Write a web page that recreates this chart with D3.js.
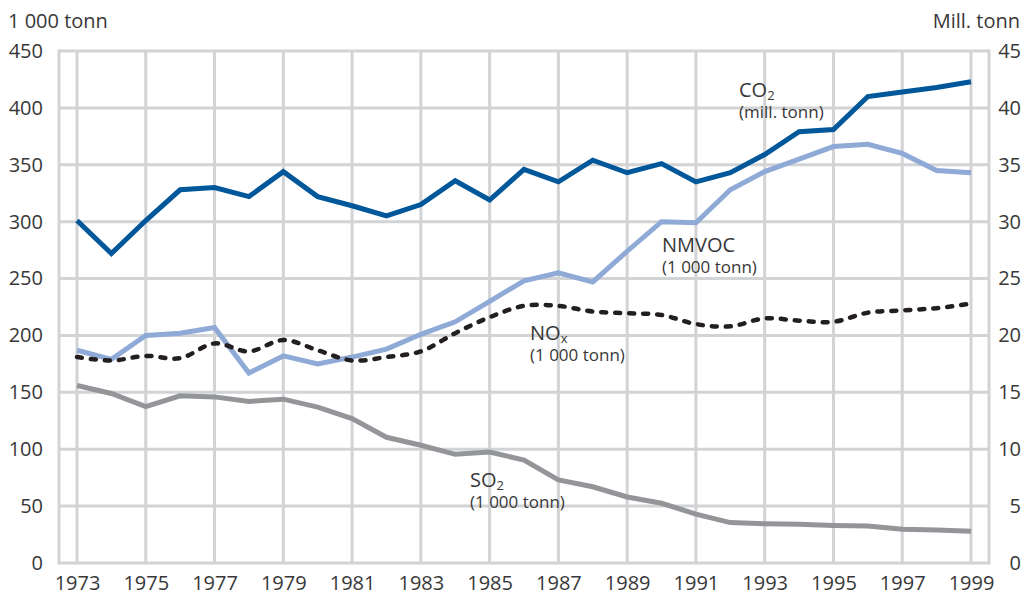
<!DOCTYPE html>
<html>
<head>
<meta charset="utf-8">
<script src="https://cdn.jsdelivr.net/npm/d3@7"></script>
<style>
  html, body { margin: 0; padding: 0; background: #ffffff; }
  svg { display: block; font-family: "Open Sans", "Noto Sans", sans-serif; }
</style>
</head>
<body>
<svg id="chart" width="1025" height="595"></svg>
<script>
const years = d3.range(1973, 2000);
const yearTicks = [1973, 1975, 1977, 1979, 1981, 1983, 1985, 1987, 1989, 1991, 1993, 1995, 1997, 1999];
const leftTicks = [0, 50, 100, 150, 200, 250, 300, 350, 400, 450];
const rightTicks = [0, 5, 10, 15, 20, 25, 30, 35, 40, 45];

// CO2, mill. tonn (right axis)
const co2 = [30.1, 27.2, 30.1, 32.8, 33.0, 32.2, 34.4, 32.2, 31.4, 30.5, 31.5, 33.6, 31.9, 34.6, 33.5, 35.4, 34.3, 35.1, 33.5, 34.3, 35.9, 37.9, 38.1, 41.0, 41.4, 41.8, 42.3];
// NMVOC, 1 000 tonn
const nmvoc = [187, 179, 200, 202, 207, 167, 182, 175, 181, 188, 201, 212, 230, 248, 255, 247, 274, 300, 299, 328, 344, 355, 366, 368, 360, 345, 343];
// NOx, 1 000 tonn
const nox = [181, 178, 182, 180, 193, 186, 196, 187, 178, 181, 186, 202, 216, 226, 226, 221, 219.5, 218, 210, 208, 215, 213, 212, 220, 222, 224, 228];
// SO2, 1 000 tonn
const so2 = [156, 149, 137.5, 147, 146, 142, 144, 137, 127, 110.5, 103.5, 95.5, 97.5, 90.5, 73, 67, 58, 52.5, 43, 35.5, 34.5, 34, 33, 32.5, 29.6, 29, 28];

const svg = d3.select("#chart");
const frame = { left: 59, right: 989, top: 51, bottom: 563 };
const x = d3.scaleLinear().domain([1973, 1999]).range([77, 971]);
const yL = d3.scaleLinear().domain([0, 450]).range([frame.bottom, frame.top]);
const yR = d3.scaleLinear().domain([0, 45]).range([frame.bottom, frame.top]);

const gridColor = "#d2d3d5";
const textColor = "#383838";

// gridlines
const grid = svg.append("g");
grid.selectAll("line.h").data(leftTicks).join("line")
  .attr("x1", frame.left).attr("x2", frame.right)
  .attr("y1", d => yL(d)).attr("y2", d => yL(d))
  .attr("stroke", gridColor).attr("stroke-width", 3);
grid.selectAll("line.v").data(yearTicks).join("line")
  .attr("x1", d => x(d)).attr("x2", d => x(d))
  .attr("y1", frame.top).attr("y2", frame.bottom)
  .attr("stroke", gridColor).attr("stroke-width", 3);
[frame.left, frame.right].forEach(px => {
  grid.append("line").attr("x1", px).attr("x2", px)
    .attr("y1", frame.top - 1.5).attr("y2", frame.bottom + 1.5)
    .attr("stroke", gridColor).attr("stroke-width", 3);
});

// axes (labels only)
const axisL = d3.axisLeft(yL).tickValues(leftTicks).tickSize(0).tickPadding(0);
const gL = svg.append("g").attr("transform", "translate(43,0)").call(axisL);
const axisR = d3.axisRight(yR).tickValues(rightTicks).tickSize(0).tickPadding(0);
const gR = svg.append("g").attr("transform", "translate(1021,0)").call(axisR);
gR.selectAll("text").attr("text-anchor", "end");
const axisB = d3.axisBottom(x).tickValues(yearTicks).tickFormat(d3.format("d")).tickSize(0).tickPadding(0);
const gB = svg.append("g").attr("transform", "translate(0,576)").call(axisB);
[gL, gR, gB].forEach(g => {
  g.select(".domain").remove();
  g.selectAll("text").attr("fill", textColor).attr("font-size", 20)
    .attr("font-family", "'Open Sans', sans-serif");
});
gB.selectAll("text").attr("dy", "0.72em");

// axis titles
svg.append("text").attr("x", 8).attr("y", 28).attr("font-size", 20).attr("fill", textColor).text("1 000 tonn");
svg.append("text").attr("x", 1020).attr("y", 28).attr("font-size", 20).attr("fill", textColor)
  .attr("text-anchor", "end").text("Mill. tonn");

// lines
const lineL = d3.line().x((d, i) => x(years[i])).y(d => yL(d));
const lineR = d3.line().x((d, i) => x(years[i])).y(d => yR(d));
const lineSmooth = d3.line().x((d, i) => x(years[i])).y(d => yL(d)).curve(d3.curveCatmullRom.alpha(0.5));

svg.append("path").datum(so2).attr("d", lineL)
  .attr("fill", "none").attr("stroke", "#939598").attr("stroke-width", 5);
svg.append("path").datum(nmvoc).attr("d", lineL)
  .attr("fill", "none").attr("stroke", "#8faad6").attr("stroke-width", 5);
svg.append("path").datum(co2).attr("d", lineR)
  .attr("fill", "none").attr("stroke", "#00579a").attr("stroke-width", 5);
svg.append("path").datum(nox).attr("d", lineSmooth)
  .attr("fill", "none").attr("stroke", "#231f20").attr("stroke-width", 4.5)
  .attr("stroke-dasharray", "5,9").attr("stroke-linecap", "round");

// series labels (one text element each, with a second line)
function label(px, py, main, sub, unit) {
  const t = svg.append("text").attr("x", px).attr("y", py).attr("fill", textColor).attr("font-size", 20);
  t.append("tspan").text(main);
  if (sub) t.append("tspan").attr("font-size", 13).attr("dy", 3).text(sub);
  t.append("tspan").attr("x", px).attr("dy", sub ? 18 : 21).attr("font-size", 17).text(unit);
}
label(739, 97, "CO", "2", "(mill. tonn)");
label(662, 252, "NMVOC", "", "(1 000 tonn)");
label(530, 340, "NO", "x", "(1 000 tonn)");
label(470, 487, "SO", "2", "(1 000 tonn)");
</script>
</body>
</html>
